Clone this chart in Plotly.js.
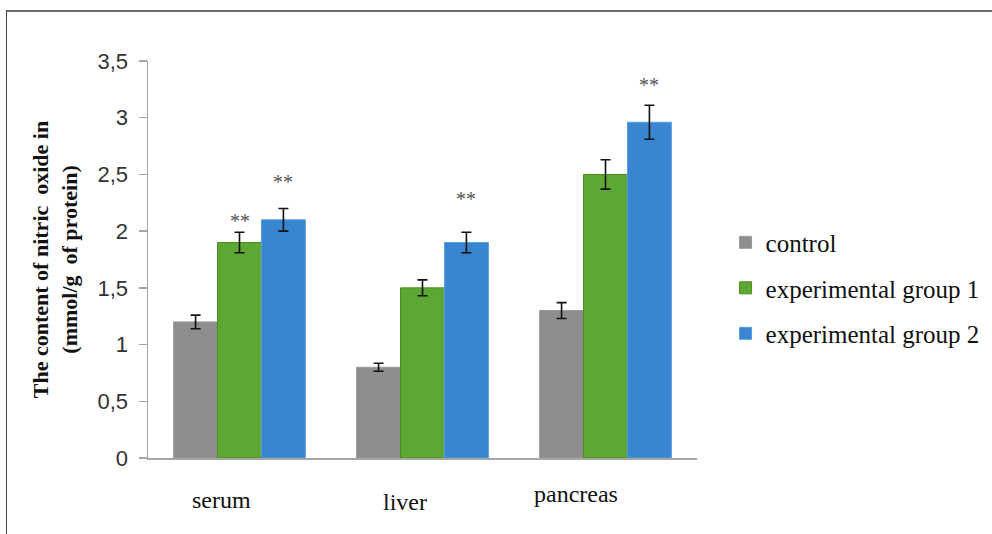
<!DOCTYPE html>
<html><head><meta charset="utf-8">
<script src="https://cdn.plot.ly/plotly-3.0.1.min.js"></script>
<style>
html,body{margin:0;padding:0;background:#fff;overflow:hidden}
#chart{position:absolute;left:0;top:0;width:992px;height:534px}
#frame{position:absolute;left:6px;top:10px;width:1100px;height:700px;border-top:2px solid #6a6a6a;border-left:1.5px solid #444;pointer-events:none}
</style></head><body>
<div id="chart"></div><div id="frame"></div>
<script>
const categories = ['serum', 'liver', 'pancreas'];
const seriesNames = ['control', 'experimental group 1', 'experimental group 2'];
const controlValues = [1.2, 0.8, 1.3];
const controlErrors = [0.06, 0.035, 0.07];
const group1Values = [1.9, 1.5, 2.5];
const group1Errors = [0.09, 0.07, 0.13];
const group2Values = [2.1, 1.9, 2.96];
const group2Errors = [0.1, 0.09, 0.15];
const starSeries = [1, 2, 2, 2];
const starCategory = [0, 0, 1, 2];
const starLabelY = [2.09, 2.43, 2.28, 3.29];
const yTickVals = [0, 0.5, 1, 1.5, 2, 2.5, 3, 3.5];
const yTickText = ['0', '0,5', '1', '1,5', '2', '2,5', '3', '3,5'];

const BARGAP = 0.28;
const colors = ['#8e8e8e', '#5da833', '#3a85d0'];
const edges = ['#9a9a9a', '#4a8a22', '#5a9fe0'];
const valueSets = [controlValues, group1Values, group2Values];
const errorSets = [controlErrors, group1Errors, group2Errors];
const serif = 'Liberation Serif, Times New Roman, serif';

const traces = valueSets.map((vals, i) => ({
  type: 'bar',
  name: seriesNames[i],
  x: categories,
  y: vals,
  legendgroup: 'g' + i,
  marker: {color: colors[i], line: {color: edges[i], width: 1}},
  error_y: {type: 'data', array: errorSets[i], visible: true, color: '#111', thickness: 1.6, width: 5},
  hoverinfo: 'none'
}));

const barW = (1 - BARGAP) / 3;
const annotations = [];
starSeries.forEach((s, k) => {
  annotations.push({
    xref: 'x', yref: 'y',
    x: starCategory[k] + (s - 1) * barW,
    y: starLabelY[k],
    text: '**', showarrow: false,
    font: {family: serif, size: 20, color: '#555'}
  });
});
const labelShiftX = [-18, -18, -30];
const labelShiftY = [-42, -44, -36];
categories.forEach((c, i) => {
  annotations.push({
    xref: 'x', yref: 'paper', x: i, y: 0, yanchor: 'middle',
    xshift: labelShiftX[i], yshift: labelShiftY[i],
    text: c, showarrow: false,
    font: {family: serif, size: 24, color: '#111'}
  });
});

const layout = {
  width: 992, height: 534,
  margin: {l: 148, r: 295, t: 61, b: 76, autoexpand: false},
  paper_bgcolor: '#fff', plot_bgcolor: '#fff',
  barmode: 'group', bargap: BARGAP, bargroupgap: 0,
  showlegend: true,
  legend: {
    x: 1.052, xanchor: 'left', y: 0.428, yanchor: 'middle',
    font: {family: serif, size: 25, color: '#111'},
    tracegroupgap: 10, traceorder: 'grouped'
  },
  xaxis: {
    type: 'category', showticklabels: false, ticks: '',
    showline: true, linecolor: '#a6a6a6', linewidth: 1.5,
    showgrid: false, zeroline: false
  },
  yaxis: {
    range: [0, 3.5], tickvals: yTickVals, ticktext: yTickText,
    ticks: 'outside', ticklen: 8, tickcolor: '#a6a6a6', tickwidth: 1.5,
    ticklabelstandoff: 6,
    showline: true, linecolor: '#a6a6a6', linewidth: 1.5,
    showgrid: false, zeroline: false,
    tickfont: {family: 'Liberation Sans, Arial, sans-serif', size: 22, color: '#333'},
    title: {
      text: '<b>The content of nitric  oxide in<br>(mmol/g  of protein)</b>',
      font: {family: serif, size: 22, color: '#111'},
      standoff: 14
    }
  },
  annotations: annotations
};

Plotly.newPlot('chart', traces, layout, {displayModeBar: false, staticPlot: true});
</script>
</body></html>
